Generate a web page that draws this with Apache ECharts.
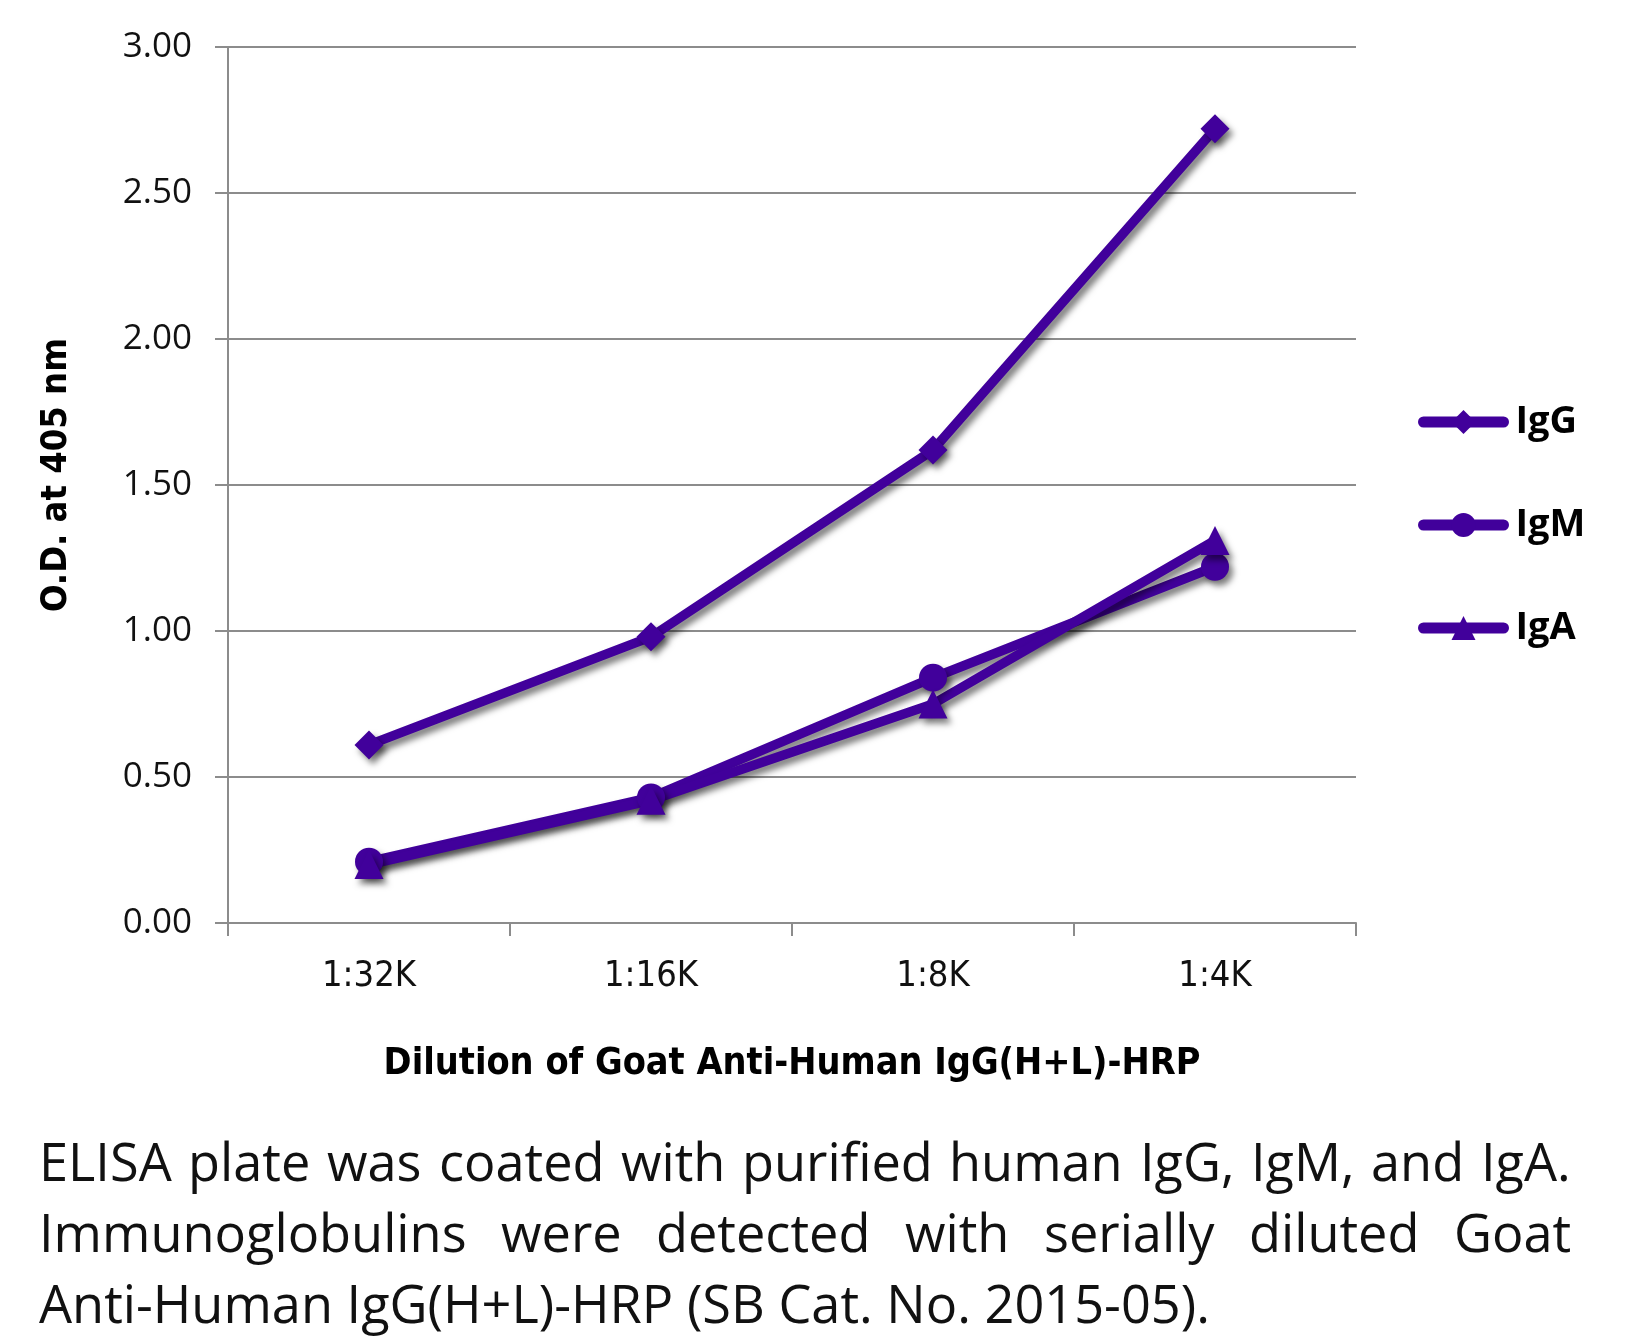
<!DOCTYPE html>
<html>
<head>
<meta charset="utf-8">
<script src="https://cdn.jsdelivr.net/npm/echarts@6/dist/echarts.min.js"></script>
<style>
html,body{margin:0;padding:0;background:#fff;}
#chart{width:1626px;height:1337px;}
</style>
</head>
<body>
<div id="chart"></div>
<script>
// ---- data ----
const categories = ['1:32K', '1:16K', '1:8K', '1:4K'];
const seriesNames = ['IgG', 'IgM', 'IgA'];
const iggValues = [0.61, 0.98, 1.62, 2.72];
const igmValues = [0.21, 0.43, 0.84, 1.22];
const igaValues = [0.20, 0.42, 0.75, 1.31];
const yMin = 0, yMax = 3, yInterval = 0.5;
const yTitle = 'O.D. at 405 nm';
const xTitle = 'Dilution of Goat Anti-Human IgG(H+L)-HRP';
const captionLines = [
  'ELISA plate was coated with purified human IgG, IgM, and IgA.',
  'Immunoglobulins were detected with serially diluted Goat',
  'Anti-Human IgG(H+L)-HRP (SB Cat. No. 2015-05).'
];

// ---- style ----
const purple = '#41009b';
const gridGray = '#8c8c8c';
const condensed = "'DejaVu Sans Condensed', 'Liberation Sans Narrow', 'DejaVu Sans', sans-serif";
const capFont = "'Open Sans'";
const shadow = {shadowColor: 'rgba(0,0,0,0.5)', shadowBlur: 6, shadowOffsetX: 4, shadowOffsetY: 5};

const chart = echarts.init(document.getElementById('chart'), null, {renderer: 'canvas'});

// caption layout (justified)
const ctx = document.createElement('canvas').getContext('2d');
ctx.font = '100px ' + capFont;
const lastW = ctx.measureText(captionLines[2]).width;
const capSize = Math.round(100 * 1172 / lastW * 10) / 10;
ctx.font = capSize + 'px ' + capFont;
const capLeft = 39, capRight = 1571;
const capYs = [1163, 1234, 1305];
const graphics = [];
captionLines.forEach((line, i) => {
  const top = capYs[i] - capSize * 0.7 + 14;
  if (i === captionLines.length - 1) {
    graphics.push({type: 'text', left: capLeft, top: top,
      style: {text: line, font: capSize + 'px ' + capFont, fill: '#111'}});
    return;
  }
  const words = line.split(' ');
  const widths = words.map(w => ctx.measureText(w).width);
  const total = widths.reduce((a, b) => a + b, 0);
  const gap = (capRight - capLeft - total) / (words.length - 1);
  let x = capLeft;
  words.forEach((w, j) => {
    graphics.push({type: 'text', left: Math.round(x), top: top,
      style: {text: w, font: capSize + 'px ' + capFont, fill: '#111'}});
    x += widths[j] + gap;
  });
});

function lineSeries(name, data, symbol, size) {
  return {
    name: name, type: 'line', data: data,
    symbol: symbol, symbolSize: size,
    lineStyle: Object.assign({color: purple, width: 9.5}, shadow),
    itemStyle: Object.assign({color: purple}, shadow),
    emphasis: {disabled: true},
    z: 3
  };
}

const option = {
  animation: false,
  backgroundColor: '#fff',
  grid: {left: 228, right: 270, top: 47, bottom: 414, containLabel: false},
  xAxis: {
    type: 'category', data: categories, boundaryGap: true,
    axisLine: {show: true, lineStyle: {color: gridGray, width: 2}},
    axisTick: {show: true, length: 13, lineStyle: {color: gridGray, width: 2}},
    axisLabel: {margin: 36, fontSize: 36, color: '#111', fontFamily: condensed},
    name: xTitle, nameLocation: 'middle', nameGap: 122,
    nameTextStyle: {fontSize: 37.5, fontWeight: 'bold', color: '#000', fontFamily: condensed}
  },
  yAxis: {
    type: 'value', min: yMin, max: yMax, interval: yInterval,
    axisLine: {show: true, lineStyle: {color: gridGray, width: 2}},
    axisTick: {show: true, length: 13, lineStyle: {color: gridGray, width: 2}},
    splitLine: {show: true, lineStyle: {color: gridGray, width: 2}},
    axisLabel: {margin: 36, fontSize: 35, color: '#111', fontFamily: "'Open Sans'",
      formatter: v => v.toFixed(2)},
    name: yTitle, nameLocation: 'middle', nameRotate: 90, nameGap: 153,
    nameTextStyle: {fontSize: 36, fontWeight: 'bold', color: '#000', fontFamily: condensed, padding: [0, 0, 0, 20]}
  },
  legend: {
    orient: 'vertical', left: 1413, top: 397,
    data: seriesNames,
    itemWidth: 80, itemHeight: 30, itemGap: 63,
    textStyle: {fontSize: 38, fontWeight: 'bold', color: '#000', fontFamily: "'Open Sans'", lineHeight: 40, padding: [0, 0, 0, 7]},
    lineStyle: {width: 11, cap: 'round', shadowColor: 'transparent', shadowBlur: 0, shadowOffsetX: 0, shadowOffsetY: 0},
    itemStyle: {shadowColor: 'transparent', shadowBlur: 0, shadowOffsetX: 0, shadowOffsetY: 0},
    selectedMode: false
  },
  series: [
    lineSeries('IgG', iggValues, 'diamond', 29),
    lineSeries('IgM', igmValues, 'circle', 28),
    lineSeries('IgA', igaValues, 'triangle', 29)
  ],
  graphic: graphics
};
chart.setOption(option);
</script>
</body>
</html>
